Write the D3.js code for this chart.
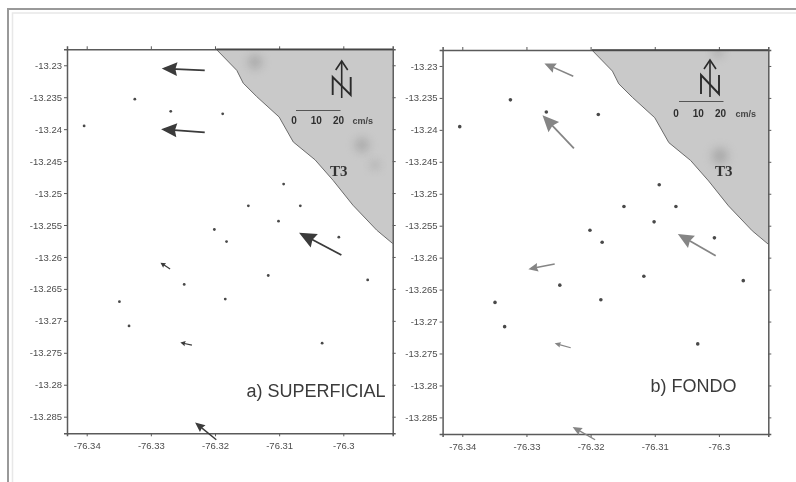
<!DOCTYPE html>
<html>
<head>
<meta charset="utf-8">
<script src="https://cdn.jsdelivr.net/npm/d3@7"></script>
<style>
	body { margin: 0; background: #fff; }
	svg { display: block; font-family: 'Liberation Sans', Arial, sans-serif; }
</style>
</head>
<body>
<svg id="chart" width="796" height="482"></svg>
<script>
// tick values of both map panels
const lonTicks = [-76.34, -76.33, -76.32, -76.31, -76.3]
const latTicks = [-13.23, -13.235, -13.24, -13.245, -13.25, -13.255, -13.26, -13.265, -13.27, -13.275, -13.28, -13.285]

// sampling stations
const stationLon = [-76.3325, -76.3269, -76.3188, -76.3404, -76.3093, -76.3148, -76.3067, -76.3101, -76.3201, -76.3182, -76.3007, -76.3117, -76.2962, -76.3248, -76.3184, -76.3349, -76.3334, -76.3033]
const stationLat = [-13.2353, -13.2372, -13.2376, -13.2395, -13.2486, -13.252, -13.252, -13.2544, -13.2557, -13.2576, -13.2569, -13.2629, -13.2636, -13.2643, -13.2666, -13.267, -13.2708, -13.2735]

// coast line, north to south
const coastLon = [-76.3198, -76.3166, -76.3156, -76.3135, -76.31, -76.3078, -76.3044, -76.3016, -76.2985, -76.2948, -76.2923]
const coastLat = [-13.2275, -13.2308, -13.2328, -13.2349, -13.2381, -13.242, -13.2448, -13.248, -13.2519, -13.2558, -13.2579]

// current arrows at the surface: tail and head
const surfTailLon = [-76.3216, -76.3216, -76.3003, -76.327, -76.3236, -76.3198]
const surfTailLat = [-13.2308, -13.2405, -13.2597, -13.2619, -13.2738, -13.2886]
const surfHeadLon = [-76.3283, -76.3284, -76.3069, -76.3285, -76.3254, -76.3231]
const surfHeadLat = [-13.2305, -13.24, -13.2562, -13.2609, -13.2734, -13.2859]

// current arrows at the bottom: tail and head
const botTailLon = [-76.3227, -76.3226, -76.3005, -76.3256, -76.3231, -76.3193]
const botTailLat = [-13.2316, -13.2429, -13.2597, -13.261, -13.2741, -13.2885]
const botHeadLon = [-76.3272, -76.3275, -76.3064, -76.3297, -76.3256, -76.3228]
const botHeadLat = [-13.2296, -13.2377, -13.2563, -13.2618, -13.2734, -13.2865]

// legend of the velocity scale
const legendSpeeds = [0, 10, 20]

const lonDomain = [-76.34307, -76.2923]
const latDomain = [-13.2876, -13.2275]

const svg = d3.select('#chart')

// The whole picture is a soft scan, so everything gets a small blur
const defs = svg.append('defs')
defs.append('filter').attr('id', 'scan').append('feGaussianBlur').attr('stdDeviation', 0.45)
defs.append('filter')
	.attr('id', 'stain')
	.attr('x', '-100%')
	.attr('y', '-100%')
	.attr('width', '300%')
	.attr('height', '300%')
	.append('feGaussianBlur')
	.attr('stdDeviation', 5)

const root = svg.append('g').attr('filter', 'url(#scan)')

//Frame of the scanned page
root.append('path').attr('d', 'M8,482V9H796').attr('fill', 'none').attr('stroke', '#999').attr('stroke-width', 2)
root.append('path').attr('d', 'M12.5,482V13H796').attr('fill', 'none').attr('stroke', '#e8e8e8').attr('stroke-width', 1.5)

function drawPanel(p) {
	const x = d3.scaleLinear().domain(lonDomain).range([p.left, p.right])
	const y = d3.scaleLinear().domain(latDomain).range([p.bottom, p.top])
	const g = root.append('g')

	//Land
	const land = coastLon.map((d, i) => [x(d), y(coastLat[i])])
	const landPath = d3.line()(land)
	g.append('clipPath').attr('id', p.clip).append('path').attr('d', landPath + 'V' + p.top + 'Z')

	g.append('path')
		.attr('d', landPath + 'V' + p.top + 'Z')
		.attr('fill', '#c9c9c9')

	g.append('g')
		.attr('clip-path', 'url(#' + p.clip + ')')
		.selectAll(null)
		.data(p.stains)
		.enter()
		.append('circle')
		.attr('cx', d => d[0])
		.attr('cy', d => d[1])
		.attr('r', d => d[2])
		.attr('fill', '#8f8f8f')
		.attr('opacity', 0.55)
		.attr('filter', 'url(#stain)')

	g.append('path').attr('d', landPath).attr('fill', 'none').attr('stroke', '#6a6a6a').attr('stroke-width', 1)

	//Axes on all four sides, labels only left and bottom
	const axes = [
		[d3.axisBottom(x).tickValues(lonTicks).tickFormat(String), 0, p.bottom],
		[d3.axisTop(x).tickValues(lonTicks).tickFormat(''), 0, p.top],
		[d3.axisLeft(y).tickValues(latTicks).tickFormat(String), p.left, 0],
		[d3.axisRight(y).tickValues(latTicks).tickFormat(''), p.right, 0],
	]
	axes.forEach(a => {
		const axis = g
			.append('g')
			.attr('transform', 'translate(' + a[1] + ',' + a[2] + ')')
			.call(a[0].tickSizeOuter(0).tickSize(3).tickPadding(a[1] ? 2 : 6))
		axis.select('.domain').attr('stroke', '#5a5a5a').attr('stroke-width', 1.5)
		axis.selectAll('.tick line').attr('stroke', '#5a5a5a')
		axis.selectAll('text').attr('fill', '#4d4d4d').style('font-size', '9.5px').style('font-family', 'inherit')
	})
	g.append('line')
		.attr('x1', x(coastLon[0]))
		.attr('x2', p.right)
		.attr('y1', p.top)
		.attr('y2', p.top)
		.attr('stroke', '#444')
		.attr('stroke-width', 1.5)

	//Stations
	g.selectAll(null)
		.data(stationLon)
		.enter()
		.append('circle')
		.attr('cx', d => x(d))
		.attr('cy', (d, i) => y(stationLat[i]))
		.attr('r', p.dot)
		.attr('fill', '#4a4a4a')

	//Current arrows
	const arrows = g
		.selectAll(null)
		.data(p.tailLon)
		.enter()
		.append('g')
		.attr('transform', (d, i) => {
			const x0 = x(d)
			const y0 = y(p.tailLat[i])
			const a = Math.atan2(y(p.headLat[i]) - y0, x(p.headLon[i]) - x0)
			return 'translate(' + x0 + ',' + y0 + ') rotate(' + (a * 180) / Math.PI + ')'
		})

	function arrowLength(i) {
		return Math.hypot(x(p.headLon[i]) - x(p.tailLon[i]), y(p.headLat[i]) - y(p.tailLat[i]))
	}

	arrows
		.append('line')
		.attr('x2', (d, i) => arrowLength(i) - 3)
		.attr('stroke', p.arrow)
		.attr('stroke-width', (d, i) => 1 + arrowLength(i) / 60)

	arrows
		.append('path')
		.attr('fill', p.arrow)
		.attr('d', (d, i) => {
			const l = arrowLength(i)
			const h = Math.max(5, l * 0.36)
			const w = Math.max(2.6, l * 0.16)
			return 'M' + l + ',0L' + (l - h) + ',' + -w + 'L' + (l - h * 0.88) + ',0L' + (l - h) + ',' + w + 'Z'
		})

	//North arrow
	const n = p.north
	const north = g.append('g').attr('fill', 'none').attr('stroke', '#2b2b2b').attr('stroke-width', 1.6)
	north.append('path').attr('d', 'M' + n.x + ',' + n.tip + 'V' + n.base)
	north.append('path').attr('d', 'M' + (n.x - 6) + ',' + (n.tip + 9) + 'L' + n.x + ',' + n.tip + 'L' + (n.x + 6) + ',' + (n.tip + 9))
	north
		.append('path')
		.attr('stroke-width', 1.9)
		.attr('d', 'M' + (n.x - 9) + ',' + n.nBottom + 'V' + n.nTop + 'L' + (n.x + 9) + ',' + n.nBottom + 'V' + n.nTop)

	//Velocity scale
	const s = d3.scaleLinear().domain([0, 20]).range([p.scale.x, p.scale.x + 44.5])
	g.append('line')
		.attr('x1', s(0))
		.attr('x2', s(20))
		.attr('y1', p.scale.y)
		.attr('y2', p.scale.y)
		.attr('stroke', '#555')
		.attr('stroke-width', 1)

	g.selectAll(null)
		.data(legendSpeeds)
		.enter()
		.append('text')
		.attr('x', d => s(d) + p.scale.dx)
		.attr('y', p.scale.y + p.scale.dy)
		.attr('text-anchor', 'middle')
		.attr('fill', '#2f2f2f')
		.style('font-size', '10px')
		.style('font-weight', 'bold')
		.text(d => d)

	g.append('text')
		.attr('x', s(20) + p.scale.unitDx)
		.attr('y', p.scale.y + p.scale.dy)
		.attr('fill', '#444')
		.style('font-size', '9px')
		.style('font-weight', 'bold')
		.text('cm/s')

	//Labels
	g.append('text')
		.attr('x', p.t3[0])
		.attr('y', p.t3[1])
		.attr('fill', '#333')
		.style('font-family', "'Liberation Serif', serif")
		.style('font-size', '15px')
		.style('font-weight', 'bold')
		.text('T3')

	g.append('text')
		.attr('x', p.title[0])
		.attr('y', p.title[1])
		.attr('fill', '#3a3a3a')
		.style('font-size', '18px')
		.text(p.label)
}

drawPanel({
	clip: 'landA',
	left: 67,
	right: 392.7,
	top: 49.3,
	bottom: 433.3,
	dot: 1.4,
	arrow: '#3a3a3a',
	tailLon: surfTailLon,
	tailLat: surfTailLat,
	headLon: surfHeadLon,
	headLat: surfHeadLat,
	stains: [[255, 62, 7], [362, 145, 7], [375, 165, 4]],
	north: { x: 341.7, tip: 61, base: 98, nTop: 77, nBottom: 95 },
	scale: { x: 296, y: 110.5, dx: -2, dy: 13, unitDx: 12 },
	t3: [330, 176],
	title: [246.5, 396.5],
	label: 'a) SUPERFICIAL',
})

drawPanel({
	clip: 'landB',
	left: 442.6,
	right: 768.3,
	top: 50,
	bottom: 434,
	dot: 1.8,
	arrow: '#858585',
	tailLon: botTailLon,
	tailLat: botTailLat,
	headLon: botHeadLon,
	headLat: botHeadLat,
	stains: [[720, 156, 8], [718, 52, 5]],
	north: { x: 710, tip: 60, base: 97, nTop: 75, nBottom: 94 },
	scale: { x: 679, y: 101.5, dx: -3, dy: 15, unitDx: 12 },
	t3: [715, 176],
	title: [650.5, 392],
	label: 'b) FONDO',
})
</script>
</body>
</html>
